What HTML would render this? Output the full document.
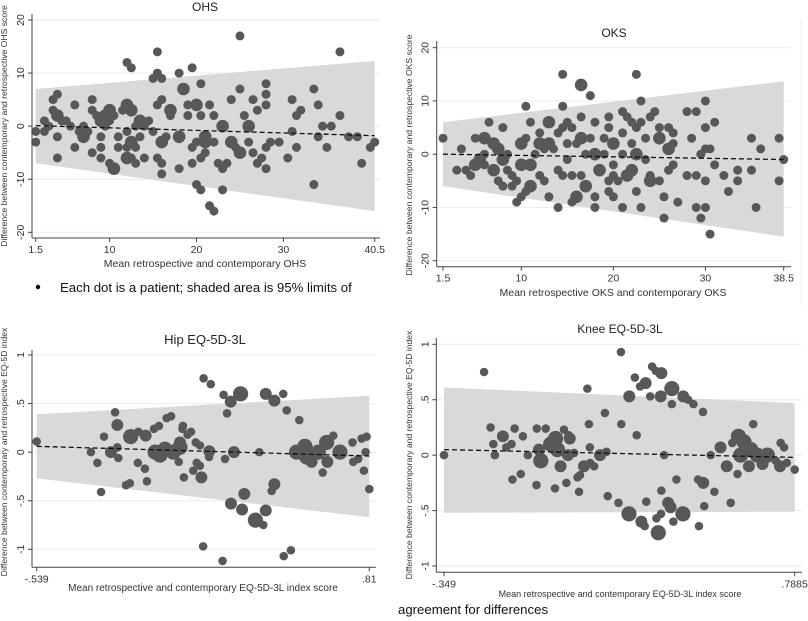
<!DOCTYPE html>
<html><head><meta charset="utf-8"><style>
body{margin:0;background:#fff;width:808px;height:621px;overflow:hidden;font-family:"Liberation Sans",sans-serif}
svg{position:absolute;left:0;top:0}
</style></head><body>
<svg id="c" width="808" height="621" viewBox="0 0 808 621"></svg>
<script>
// ---- data (x = mean, y = difference, w = weight/size) ----
const ohsPoints=[[1.5,-1,1],[1.5,-3,1],[2.5,1,1],[2.5,-1,1],[3.5,5,1],[3.5,3,1],[4,6,1],[4,2,2],[4,-2,1],[4,-6,1],[4.5,1,1],[3,0,1],[5,1,1],[5.5,0,1],[6,4,1],[6,-4,1],[6.5,-1,1],[7,0,1],[7,-2,2],[7.5,-1,1],[8,5,1],[8,3,1],[8,-5,1],[8.5,2,1],[9,1,2],[9,-2,1],[9,-4,1],[9,-6,1],[9.5,2,2],[9.5,0,1],[10,3,2],[10,1,1],[10,-7,1],[10.5,2,1],[10.5,-8,2],[11,-2,1],[11,-4,1],[11.5,3,1],[12,12,1],[12,4,2],[12,-1,1],[12,-4,1],[12,-6,2],[12.5,11,1],[12.5,3,2],[12.5,-3,2],[12.5,-6,1],[13,0,1],[13,-4,1],[13,-7,1],[13.5,1,2],[13.5,-2,1],[14,0,1],[14,-6,1],[14.5,1,1],[15,9,1],[15,-1,1],[15.5,14,1],[15.5,10,1],[15.5,4,1],[15.5,-6,1],[16,9,1],[16,5,1],[16,-7,1],[16,-9,1],[16,-3,2],[16.5,-2,1],[17,3,2],[17,2,1],[18,-2,2],[18,-8,1],[18,10,1],[18.5,7,2],[19,4,1],[19,2,1],[19.5,11,1],[19.5,-4,1],[19.5,-7,1],[20,-11,1],[20,4,2],[20,-3,1],[20.5,-12,1],[20.5,8,1],[20.5,2,1],[20.5,-6,1],[21,-5,1],[21,-2,2],[21,-3,2],[21.5,-15,1],[21.5,4,1],[22,-16,1],[22,2,1],[22,-3,1],[22.5,-7,1],[23,0,2],[23,-8,1],[23,-12,1],[23.5,-7,1],[24,5,1],[24,-3,2],[24.5,-4,1],[25,-5,2],[25,17,1],[25,7,1],[25.5,2,1],[26,0,2],[26,-3,1],[26.5,5,1],[26.5,-5,1],[27,-7,1],[27,3,1],[27.5,-6,1],[28,-4,1],[28,8,1],[28,6,1],[28,4,1],[28,-8,1],[28.5,-3,1],[29.5,-3,1],[30.5,-6,1],[31,5,1],[31,-1,1],[31.5,2,1],[31.5,-4,1],[32,3,1],[33.5,7,1],[33.5,-11,1],[34,4,1],[34,-2,1],[34.5,0,1],[35,-4,1],[35.5,0,1],[36.5,14,1],[36.5,2,1],[37.5,-2,1],[38.5,-2,1],[39,-7,1],[40,-4,1],[40.5,-3,1]];
const ohsBand=[-7,7,-16,12.3];
const ohsMean=[0.1,-1.8];
const oksPoints=[[1.5,3,1],[3,-3,1],[3.5,1,1],[4,-3,1],[4.5,-4,1],[5,3,1],[5,-2,2],[5.5,-1,2],[6,3,2],[6,0,1],[6,-2,1],[6.5,6,1],[7,-3,2],[7,2,2],[7.5,-5,1],[7.5,1,2],[8,-6,1],[8,-1,2],[8,5,1],[8.5,0,1],[8.5,-3,1],[9,-4,1],[9,-6,1],[9.5,-5,1],[9.5,-9,1],[10,2,2],[10,-2,2],[10,-8,1],[10.5,9,1],[10.5,3,1],[10.5,-7,1],[11,6,1],[11,-2,2],[11,-6,2],[11.5,0,1],[12,4,1],[12,2,2],[12,-4,1],[12.5,1,1],[12.5,-5,1],[13,6,2],[13,2,2],[13,-8,1],[13.5,1,1],[14,4,1],[14,-3,1],[14,-10,1],[14.5,15,1],[14.5,9,1],[14.5,5,1],[14.5,-4,1],[15,6,1],[15,2,1],[15,-1,1],[15.5,5,1],[15.5,-4,1],[15.5,-9,1],[16,2,1],[16,-8,2],[16.5,3,2],[16.5,7,1],[16.5,13,2],[16.5,-4,1],[17,0,1],[17,-6,2],[17.5,11,1],[17.5,3,1],[18,6,1],[18,0,2],[18,-8,1],[18,-10,1],[18.5,-3,2],[19,3,1],[19,0,1],[19.5,7,1],[19.5,5,1],[19.5,-5,1],[19.5,-7,1],[20,2,2],[20,-2,1],[20,-4,1],[20,-8,1],[20.5,-5,1],[21,8,1],[21,4,1],[21,0,1],[21,-10,1],[21.5,7,1],[21.5,-4,2],[22,6,1],[22,2,1],[22,-3,2],[22.5,15,1],[22.5,5,1],[22.5,0,2],[22.5,-7,1],[23,10,1],[23,6,1],[23,-10,1],[23.5,3,1],[23.5,-1,1],[24,7,1],[24,-4,1],[24,-5,2],[24.5,8,1],[25,3,2],[25,5,1],[25,-5,1],[25.5,-8,1],[25.5,-12,1],[26,1,2],[26,5,1],[26,-3,1],[26.5,4,1],[26.5,2,1],[26.5,-2,1],[27,-9,1],[28,8,1],[28,-4,1],[28.5,3,1],[29,8,1],[29,-4,1],[29,-10,1],[29.5,0,1],[29.5,-12,1],[30,5,1],[30,1,1],[30,-5,1],[30,10,1],[30,-10,1],[30.5,-15,1],[31,6,1],[30.5,1,1],[31,-2,1],[32,-4,1],[32.5,-7,1],[33.5,-3,1],[33.5,-5,1],[35,3,1],[35,-3,1],[35.5,-10,1],[36,1,1],[38,3,1],[38,-5,1],[38.5,-1,1]];
const oksBand=[-6,6,-15.5,13.7];
const oksMean=[0,-1];
const hipPoints=[[-.539,.11,1],[-.319,0,1],[-.293,-.11,1],[-.278,-.41,1],[-.266,.16,1],[-.238,0,2],[-.221,.41,1],[-.212,.28,2],[-.212,.05,1],[-.208,-.06,1],[-.177,-.34,1],[-.161,-.32,1],[-.158,.16,3],[-.129,-.11,1],[-.127,.21,1],[-.097,.17,2],[-.1,-.17,1],[-.092,-.3,1],[-.063,.24,1],[-.043,.27,1],[-.059,0,3],[-.039,-.03,3],[-.019,.03,3],[-.012,.35,1],[.006,.37,1],[.015,0,3],[.042,.05,3],[.042,.1,2],[.037,-.1,1],[.052,.24,1],[.058,-.26,1],[.054,.27,1],[.073,.18,1],[.087,.21,1],[.096,-.19,1],[.106,.1,1],[.11,-.11,1],[.123,-.14,1],[.123,.07,1],[.129,-.26,2],[.138,.76,1],[.167,.7,1],[.161,.01,2],[.16,-.05,1],[.219,.59,1],[.136,-.97,1],[.225,-.07,1],[.215,-1.12,1],[.233,.4,1],[.248,.52,2],[.249,-.53,2],[.288,.6,3],[.261,0,2],[.294,-.59,2],[.303,-.43,2],[.348,-.7,3],[.38,-.75,1],[.364,0,1],[.39,.6,2],[.414,-.4,1],[.425,-.33,2],[.39,-.6,2],[.425,.53,2],[.461,.6,1],[.463,-1.07,1],[.475,.43,1],[.492,-1.01,1],[.526,.33,1],[.515,0,3],[.549,.06,3],[.556,-.05,3],[.576,-.1,2],[.603,0,3],[.621,-.21,1],[.64,-.1,2],[.637,.1,3],[.664,.17,1],[.691,0,3],[.742,.1,1],[.745,-.1,1],[.765,-.07,1],[.779,.14,1],[.788,-.19,1],[.799,.16,1],[.795,0,1],[.81,-.38,1]];
const hipBand=[-.27,.39,-.67,.58];
const hipMean=[.06,-.04];
const kneePoints=[[-.349,0,1],[-.219,.75,1],[-.198,.25,1],[-.189,.1,1],[-.184,0,1],[-.158,.17,2],[-.147,.07,1],[-.13,.1,1],[-.127,-.22,1],[-.12,.24,1],[-.1,-.17,1],[-.093,.17,1],[-.077,0,1],[-.049,-.27,1],[-.041,.05,2],[-.048,.24,1],[-.035,-.05,3],[-.019,.24,1],[-.003,.1,3],[.011,-.3,1],[.013,.15,3],[.019,.05,3],[.029,-.1,2],[.04,.23,1],[.048,-.25,1],[.055,.18,1],[.059,.15,2],[.053,0,2],[.073,.02,1],[.084,-.2,1],[.089,-.33,1],[.092,-.18,1],[.105,-.1,2],[.116,.6,1],[.121,.28,1],[.124,.07,1],[.125,-.07,1],[.138,-.1,1],[.157,0,2],[.173,.38,1],[.178,.03,1],[.182,-.37,1],[.217,-.43,1],[.225,.93,1],[.226,.28,1],[.251,-.53,3],[.252,.53,2],[.27,.7,1],[.276,.18,1],[.291,-.6,2],[.287,.62,1],[.302,-.64,1],[.305,.65,2],[.307,-.42,1],[.32,.53,1],[.326,.8,1],[.338,.76,1],[.34,-.57,1],[.346,-.7,3],[.354,.53,2],[.356,.74,2],[.355,-.53,1],[.356,-.32,1],[.365,0,1],[.378,-.43,2],[.386,-.47,2],[.39,.46,1],[.395,-.6,1],[.39,.6,3],[.405,-.22,1],[.426,-.53,3],[.427,.53,2],[.443,.5,1],[.46,.46,1],[.475,-.22,1],[.478,-.64,1],[.491,.39,1],[.492,-.25,2],[.495,-.46,1],[.516,0,1],[.528,-.33,1],[.548,.07,2],[.568,-.1,2],[.581,-.43,1],[.603,-.17,1],[.586,.11,1],[.606,.17,3],[.613,0,3],[.624,.12,3],[.64,-.1,2],[.646,.05,3],[.654,.28,1],[.667,0,3],[.684,-.08,2],[.7,0,3],[.727,-.05,1],[.741,-.1,2],[.743,.11,1],[.754,.07,1],[.763,-.07,1],[.7885,-.13,1]];
const kneeBand=[-.52,.61,-.51,.47];
const kneeMean=[.05,-.02];
const ohsTicks=["1.5","10","20","30","40.5"], ohsTickVals=[1.5,10,20,30,40.5], ohsYTicks=[-20,-10,0,10,20];
const oksTicks=["1.5","10","20","30","38.5"], oksTickVals=[1.5,10,20,30,38.5];
const hipTicks=["-.539",".81"], hipTickVals=[-.539,.81], eqYTicks=[-1,-.5,0,.5,1], eqYLabels=["-1","-.5","0",".5","1"];
const kneeTicks=["-.349",".7885"], kneeTickVals=[-.349,.7885];

const NS="http://www.w3.org/2000/svg";
const svg=document.getElementById('c');
function mk(tag,attrs,parent,text){const e=document.createElementNS(NS,tag);for(const k in attrs)e.setAttribute(k,attrs[k]);if(text!==undefined)e.textContent=text;(parent||svg).appendChild(e);return e;}

function panel(cfg){
  const g=mk('g',{});
  
  
  const sx=v=>cfg.px0+(v-cfg.x0)/(cfg.x1-cfg.x0)*(cfg.px1-cfg.px0);
  const sy=v=>cfg.py0+(v-cfg.y0)/(cfg.y1-cfg.y0)*(cfg.py1-cfg.py0);
  // gridlines
  cfg.yTicks.forEach(t=>{const l=mk('line',{x1:cfg.axL,x2:cfg.gridR,y1:sy(t),y2:sy(t),stroke:'#eeeeee','stroke-width':1.2},g);
    
    });
  // band
  const b=cfg.band;
  const xl=cfg.x0, xr=cfg.x1;
  const band=mk('polygon',{points:`${sx(xl)},${sy(b[1])} ${sx(xr)},${sy(b[3])} ${sx(xr)},${sy(b[2])} ${sx(xl)},${sy(b[0])}`,fill:'#d9d9d9'},g);
  
  
  // points
  cfg.points.forEach(p=>{const c=mk('circle',{cx:sx(p[0]),cy:sy(p[1]),r:[0,4.5,6.3,8][p[2]]*cfg.rs,fill:'#585858'},g);
    
    });
  // mean line
  const m=mk('line',{x1:sx(xl),y1:sy(cfg.mean[0]),x2:sx(xr),y2:sy(cfg.mean[1]),stroke:'#111','stroke-width':1.3,'stroke-dasharray':'5,3'},g);
  
  
  // axes
  const ya=mk('line',{x1:cfg.axL,x2:cfg.axL,y1:cfg.axT,y2:cfg.axB,stroke:'#444','stroke-width':1},g);
  
  
  const xa=mk('line',{x1:cfg.axL,x2:cfg.gridR,y1:cfg.axB,y2:cfg.axB,stroke:'#444','stroke-width':1},g);
  
  
  cfg.yTicks.forEach((t,i)=>{mk('line',{x1:cfg.axL-4,x2:cfg.axL,y1:sy(t),y2:sy(t),stroke:'#444'},g);
    const tx=mk('text',{x:cfg.axL-8,y:sy(t),transform:`rotate(-90 ${cfg.axL-8} ${sy(t)})`,'text-anchor':'middle','font-size':10.5,fill:'#333'},g,cfg.yLabels[i]);
    
    });
  cfg.xTickVals.forEach((t,i)=>{mk('line',{x1:sx(t),x2:sx(t),y1:cfg.axB,y2:cfg.axB+4,stroke:'#444'},g);
    const tx=mk('text',{x:sx(t),y:cfg.axB+15,'text-anchor':'middle','font-size':10.5,fill:'#333'},g,cfg.xTicks[i]);
    
    });
  const xt=mk('text',{x:cfg.xtX,y:cfg.xtY,'text-anchor':'middle','font-size':cfg.xtFs,fill:'#333'},g,cfg.xTitle);
  
  
  const yt=mk('text',{x:cfg.ytX,y:cfg.ytY,transform:`rotate(-90 ${cfg.ytX} ${cfg.ytY})`,'text-anchor':'middle','font-size':8.6,fill:'#333'},g,cfg.yTitle);
  
  
  const tt=mk('text',{x:cfg.tX,y:cfg.tY,'text-anchor':'middle','font-size':cfg.tFs,fill:'#222'},g,cfg.title);
  
  
}
const ohsLabels=ohsYTicks.map(String);
panel({name:'ohs-panel',points:ohsPoints,band:ohsBand,mean:ohsMean,x0:1.5,x1:40.5,px0:35.7,px1:374.7,y0:20,y1:-20,py0:20,py1:232.3,
  axL:32,axT:14,axB:238,gridR:380,yTicks:ohsYTicks,yLabels:ohsLabels,xTicks:ohsTicks,xTickVals:ohsTickVals,rs:1,
  xTitle:'Mean retrospective and contemporary OHS',xtX:205,xtY:267,xtFs:10.5,
  yTitle:'Difference between contemporary and retrospective OHS score',ytX:7,ytY:126,title:'OHS',tX:205,tY:11,tFs:12});
panel({name:'oks-panel',points:oksPoints,band:oksBand,mean:oksMean,x0:1.5,x1:38.5,px0:443,px1:783.7,y0:20,y1:-20,py0:47.7,py1:260.7,
  axL:436.7,axT:41,axB:266.7,gridR:791,yTicks:ohsYTicks,yLabels:ohsLabels,xTicks:oksTicks,xTickVals:oksTickVals,rs:1,
  xTitle:'Mean retrospective OKS and contemporary OKS',xtX:613,xtY:296,xtFs:10.5,
  yTitle:'Difference between contemporary and retrospective OKS score',ytX:412,ytY:155,title:'OKS',tX:614,tY:37,tFs:12});
panel({name:'hip-eq5d-panel',points:hipPoints,band:hipBand,mean:hipMean,x0:-.539,x1:.81,px0:36.7,px1:369.3,y0:1,y1:-1,py0:355,py1:549.3,
  axL:32,axT:350,axB:567.3,gridR:376,yTicks:eqYTicks,yLabels:eqYLabels,xTicks:hipTicks,xTickVals:hipTickVals,rs:0.95,
  xTitle:'Mean retrospective and contemporary EQ-5D-3L index score',xtX:203,xtY:591,xtFs:10,
  yTitle:'Difference between contemporary and retrospective EQ-5D index',ytX:7,ytY:452,title:'Hip EQ-5D-3L',tX:205,tY:344,tFs:13});
panel({name:'knee-eq5d-panel',points:kneePoints,band:kneeBand,mean:kneeMean,x0:-.349,x1:.7885,px0:444,px1:794.7,y0:1,y1:-1,py0:344.3,py1:566,
  axL:436.3,axT:338,axB:572.3,gridR:802,yTicks:eqYTicks,yLabels:eqYLabels,xTicks:kneeTicks,xTickVals:kneeTickVals,rs:0.95,
  xTitle:'Mean retrospective and contemporary EQ-5D-3L index score',xtX:620,xtY:597,xtFs:9,
  yTitle:'Difference between contemporary and retrospective EQ-5D index',ytX:412,ytY:455,title:'Knee EQ-5D-3L',tX:620,tY:333,tFs:12});
// separator line right of OKS
const sep=mk('line',{x1:801,x2:801,y1:20,y2:305,stroke:'#eeeeee','stroke-width':1});


const bullet=mk('circle',{cx:38,cy:287,r:2.2,fill:'#000'});


const n1=mk('text',{x:60,y:292,'font-size':13.2,fill:'#111'},svg,'Each dot is a patient; shaded area is 95% limits of');


const n2=mk('text',{x:398,y:614,'font-size':13.2,fill:'#111'},svg,'agreement for differences');


</script>
</body></html>
